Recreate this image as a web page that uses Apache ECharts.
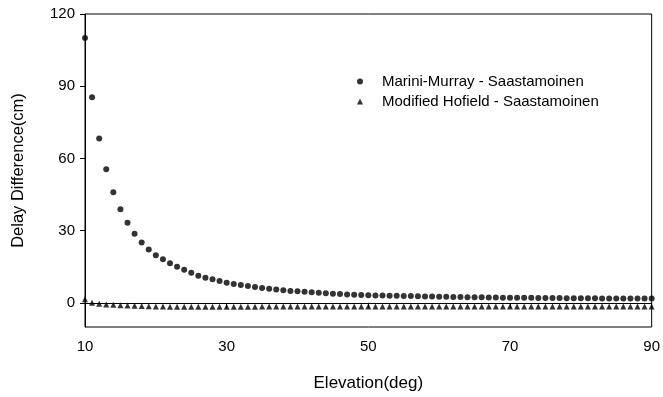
<!DOCTYPE html>
<html>
<head>
<meta charset="utf-8">
<script src="https://cdn.jsdelivr.net/npm/echarts@6/dist/echarts.min.js"></script>
<style>
  html, body { margin: 0; padding: 0; background: #fff; }
  #chart { width: 663px; height: 397px; }
</style>
</head>
<body>
<div id="chart"></div>
<script>
// elevation angles (deg), one point per degree
var elevations = [];
for (var e = 10; e <= 90; e++) elevations.push(e);

// Marini-Murray - Saastamoinen (cm)
var mariniMurray = [
  110, 85.4, 68.3, 55.5, 46, 38.9, 33.3, 28.7, 25.1, 22.2,
  19.8, 18.1, 16.5, 15, 13.75, 12.5, 11.3, 10.5, 9.8, 9.1,
  8.4, 7.9, 7.4, 7.0, 6.6, 6.2, 5.9, 5.6, 5.3, 5.0,
  4.9, 4.6, 4.4, 4.2, 4.0, 3.8, 3.7, 3.5, 3.4, 3.3,
  3.2, 3.1, 3.1, 3.0, 3.0, 2.9, 2.9, 2.8, 2.7, 2.7,
  2.6, 2.6, 2.5, 2.5, 2.4, 2.4, 2.4, 2.3, 2.3, 2.2,
  2.2, 2.1, 2.1, 2.1, 2.0, 2.0, 2.0, 2.0, 1.9, 1.9,
  1.9, 1.9, 1.9, 1.8, 1.8, 1.8, 1.8, 1.8, 1.8, 1.8,
  1.8
];

// Modified Hofield - Saastamoinen (cm)
var modHofield = [
  1.5, 0.1, -0.3, -0.7, -0.8, -1.0, -1.1, -1.2, -1.3, -1.4,
  -1.5, -1.5, -1.6, -1.6, -1.6, -1.6, -1.6, -1.6, -1.6, -1.6,
  -1.6, -1.6, -1.6, -1.6, -1.6, -1.5, -1.5, -1.5, -1.5, -1.5,
  -1.5, -1.5, -1.5, -1.5, -1.5, -1.5, -1.5, -1.5, -1.5, -1.5,
  -1.5, -1.5, -1.5, -1.5, -1.5, -1.5, -1.5, -1.5, -1.5, -1.5,
  -1.5, -1.5, -1.5, -1.5, -1.5, -1.5, -1.5, -1.5, -1.5, -1.5,
  -1.5, -1.5, -1.5, -1.5, -1.5, -1.5, -1.5, -1.5, -1.5, -1.5,
  -1.5, -1.5, -1.5, -1.5, -1.5, -1.5, -1.5, -1.5, -1.5, -1.5,
  -1.5
];

var xTicks = [10, 30, 50, 70, 90];
var yTicks = [0, 30, 60, 90, 120];

function pairs(ys) {
  return elevations.map(function (x, i) { return [x, ys[i]]; });
}

var font = 'Liberation Sans, Arial, sans-serif';
var chart = echarts.init(document.getElementById('chart'));
chart.setOption({
  animation: false,
  backgroundColor: '#fff',
  grid: {
    left: 85, right: 8, top: 14, bottom: 70,
    show: true, borderColor: '#000', borderWidth: 1
  },
  legend: {
    orient: 'vertical',
    left: 352, top: 69,
    itemGap: 5,
    itemWidth: 6, itemHeight: 6,
    textStyle: { fontFamily: font, fontSize: 15, color: '#000', padding: [0, 0, 0, 14] },
    data: [
      { name: 'Marini-Murray - Saastamoinen', icon: 'circle' },
      { name: 'Modified Hofield - Saastamoinen', icon: 'triangle' }
    ]
  },
  xAxis: {
    type: 'value',
    min: 10, max: 90,
    name: 'Elevation(deg)',
    nameLocation: 'middle',
    nameGap: 48,
    nameTextStyle: { fontFamily: font, fontSize: 17, color: '#000' },
    axisLine: { lineStyle: { color: '#000', width: 1 } },
    axisTick: { length: 5, lineStyle: { color: '#000' }, customValues: xTicks },
    axisLabel: { fontFamily: font, fontSize: 15, color: '#000', margin: 12, customValues: xTicks },
    splitLine: { show: false }
  },
  yAxis: {
    type: 'value',
    min: -10, max: 120,
    name: 'Delay Difference(cm)',
    nameLocation: 'middle',
    nameGap: 58,
    nameTextStyle: { fontFamily: font, fontSize: 16.5, color: '#000' },
    axisLine: { show: true, lineStyle: { color: '#000', width: 1 } },
    axisTick: { show: true, length: 5, lineStyle: { color: '#000' }, customValues: yTicks },
    axisLabel: { fontFamily: font, fontSize: 15, color: '#000', margin: 10, customValues: yTicks },
    splitLine: { show: false }
  },
  series: [
    {
      name: 'Marini-Murray - Saastamoinen',
      type: 'scatter',
      symbol: 'circle',
      symbolSize: 6,
      itemStyle: { color: '#000' },
      data: pairs(mariniMurray)
    },
    {
      name: 'Modified Hofield - Saastamoinen',
      type: 'scatter',
      symbol: 'triangle',
      symbolSize: 6,
      itemStyle: { color: '#000' },
      data: pairs(modHofield)
    }
  ]
});
</script>
</body>
</html>
